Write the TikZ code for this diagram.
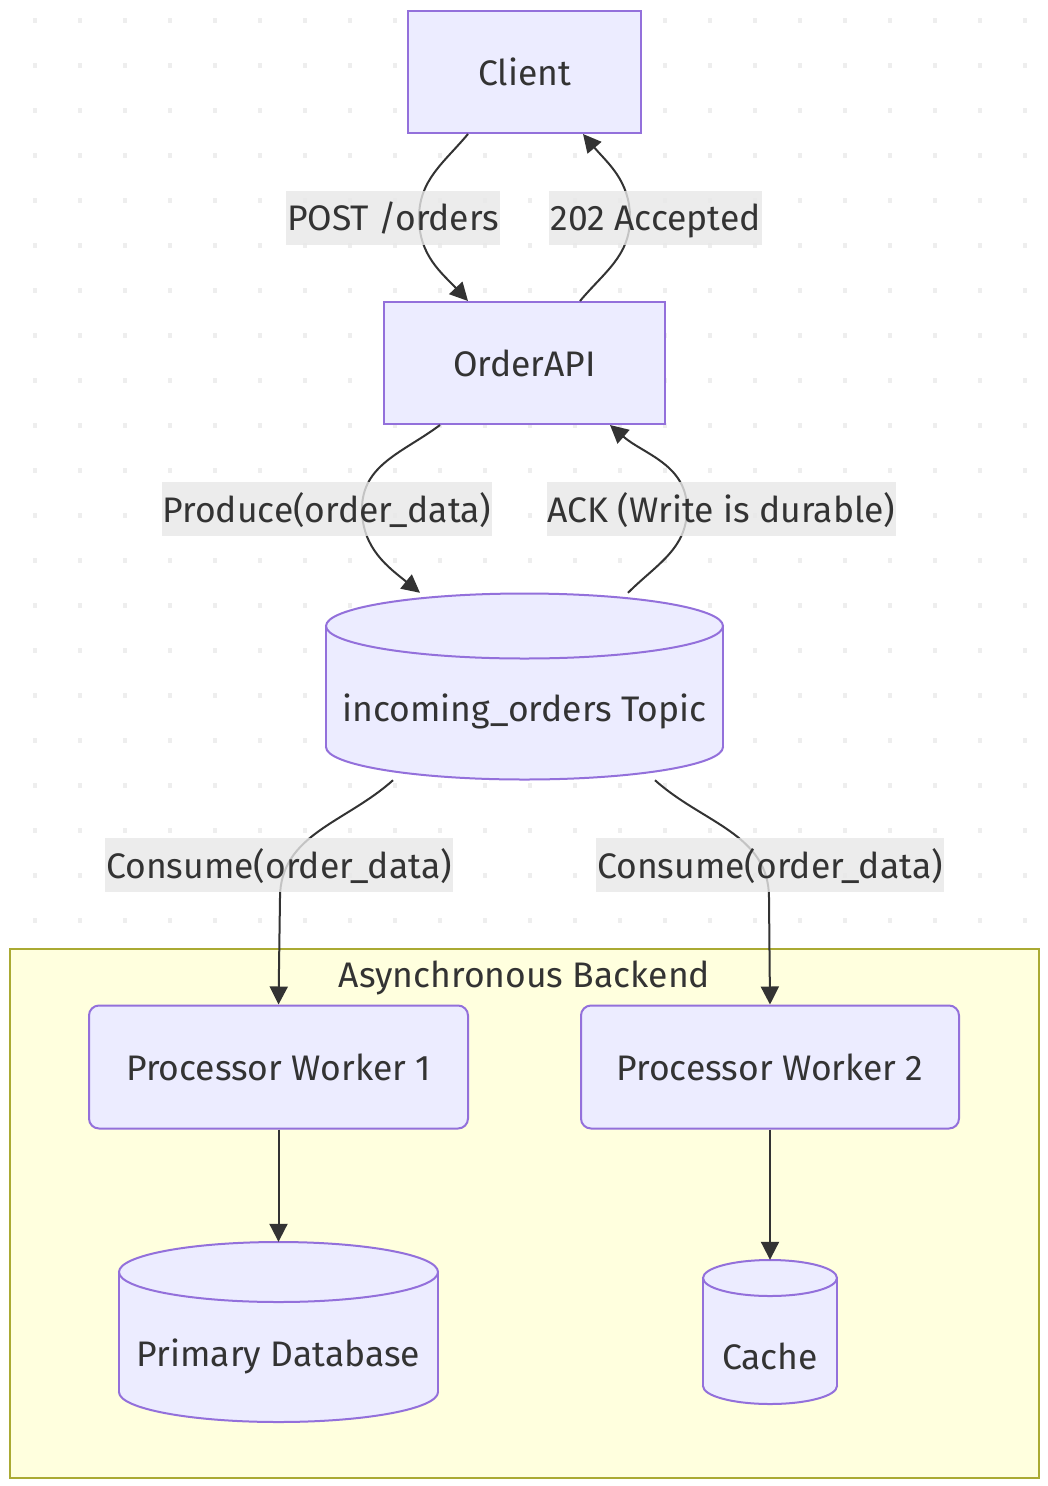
\documentclass[tikz,border=0pt]{standalone}
\usepackage{fontspec}
\setmainfont{Fira Sans}
\usetikzlibrary{arrows.meta}
\definecolor{nodefill}{HTML}{ECECFF}
\definecolor{nodeline}{HTML}{9370DB}
\definecolor{txt}{HTML}{333333}
\definecolor{edgecol}{HTML}{333333}
\definecolor{lblbg}{HTML}{E8E8E8}
\definecolor{sgfill}{HTML}{FFFFDE}
\definecolor{sgline}{HTML}{AAAA33}
\definecolor{dotcol}{HTML}{EEEEEE}
\newcommand\txtfont{\fontsize{35.5}{42}\selectfont}
\tikzset{
  box/.style={draw=nodeline, fill=nodefill, line width=2pt, text=txt, font=\txtfont, inner sep=0pt},
  rbox/.style={box, rounded corners=10pt},
  cyltext/.style={text=txt, font=\txtfont, inner sep=0pt},
  edge/.style={draw=edgecol, line width=2pt, -{Triangle[length=18pt,width=18pt]}},
  lbl/.style={fill=lblbg, fill opacity=0.8, text opacity=1, text=txt, font=\txtfont, inner xsep=1pt, inner ysep=0pt, text height=34pt, text depth=8pt, minimum height=54pt},
}
% cylinder: #1 cx, #2 top ellipse center y, #3 bottom ellipse center y, #4 rx, #5 ry
\newcommand\mycylinder[5]{%
  \filldraw[draw=nodeline, fill=nodefill, line width=2pt] (#1,#3) ellipse [x radius=#4, y radius=#5];
  \fill[nodefill] (#1-#4,#2) rectangle (#1+#4,#3);
  \draw[nodeline, line width=2pt] (#1-#4,#2) -- (#1-#4,#3) (#1+#4,#2) -- (#1+#4,#3);
  \filldraw[draw=nodeline, fill=nodefill, line width=2pt] (#1,#2) ellipse [x radius=#4, y radius=#5];
}
\begin{document}
\begin{tikzpicture}[x=1pt, y=-1pt]
\useasboundingbox (0,0) rectangle (1048,1486);
\fill[white] (0,0) rectangle (1048,1486);
% dotted background
\foreach \gx in {35,80,...,1025} {
  \foreach \gy in {20,65,...,1460} {
    \fill[dotcol] (\gx-2,\gy-2.5) rectangle (\gx+2,\gy+2.5);
  }
}
% subgraph
\draw[draw=sgline, fill=sgfill, line width=2pt] (10,949) rectangle (1039,1478);
\node[text=txt, font=\txtfont, inner sep=0pt] (sgtitle) at (524.5,978) {Asynchronous Backend};

% nodes
\node[box, minimum width=233pt, minimum height=122pt] (client) at (524.5,72) {Client};
\node[box, minimum width=281pt, minimum height=122pt] (api) at (524.5,363) {OrderAPI};
\node[rbox, minimum width=379pt, minimum height=123pt] (w1) at (278.5,1067) {Processor Worker 1};
\node[rbox, minimum width=378pt, minimum height=123pt] (w2) at (770,1067) {Processor Worker 2};

\mycylinder{524.5}{626}{747}{198.5}{32.5}
\node[inner sep=0pt, minimum width=397pt, minimum height=187pt] (topic) at (524.5,686.5) {};
\node[cyltext] (topictxt) at (524.5,711) {incoming\_orders Topic};

\mycylinder{278.5}{1272}{1392}{159.5}{30}
\node[inner sep=0pt, minimum width=319pt, minimum height=180pt] (db) at (278.5,1332) {};
\node[cyltext] (dbtxt) at (278.5,1356) {Primary Database};

\mycylinder{770}{1278}{1386}{67}{18}
\node[inner sep=0pt, minimum width=134pt, minimum height=144pt] (cache) at (770,1332) {};
\node[cyltext] (cachetxt) at (770,1356) {Cache};

% waypoints
\coordinate (m1) at (419,218);
\coordinate (m2) at (630,218);
\coordinate (m3) at (362,509);
\coordinate (m4) at (687,509);
\coordinate (m5) at (280,898);
\coordinate (m6) at (769,898);

% edges
\draw[edge] ([xshift=-56.5pt]client.south) to[out=-130,in=90] (m1) to[out=-90,in=133] ([xshift=-56.5pt]api.north);
\draw[edge] ([xshift=55.5pt]api.north) to[out=50,in=-90] (m2) to[out=90,in=-50] ([xshift=58.5pt]client.south);
\draw[edge] ([xshift=-84.5pt]api.south) to[out=-143,in=90] (m3) to[out=-90,in=141] ([xshift=-104.5pt]topic.north);
\draw[edge] ([xshift=103.5pt]topic.north) to[out=45,in=-90] (m4) to[out=90,in=-41] ([xshift=85.5pt]api.south);
\draw[edge] ([xshift=-131.5pt]topic.south) to[out=-138,in=90] (m5) -- (w1.north);
\draw[edge] ([xshift=130.5pt]topic.south) to[out=-42,in=90] (m6) -- (w2.north);
\draw[edge] (w1.south) -- (db.north);
\draw[edge] (w2.south) -- (cache.north);

% edge labels
\node[lbl] (l1) at (393,217.5) {POST /orders};
\node[lbl] (l2) at (655.5,217.5) {202 Accepted};
\node[lbl] (l3) at (327,509) {Produce(order\_data)};
\node[lbl] (l4) at (721.5,509) {ACK (Write is durable)};
\node[lbl] (l5) at (279,865) {Consume(order\_data)};
\node[lbl] (l6) at (770,865) {Consume(order\_data)};
\end{tikzpicture}
\end{document}
